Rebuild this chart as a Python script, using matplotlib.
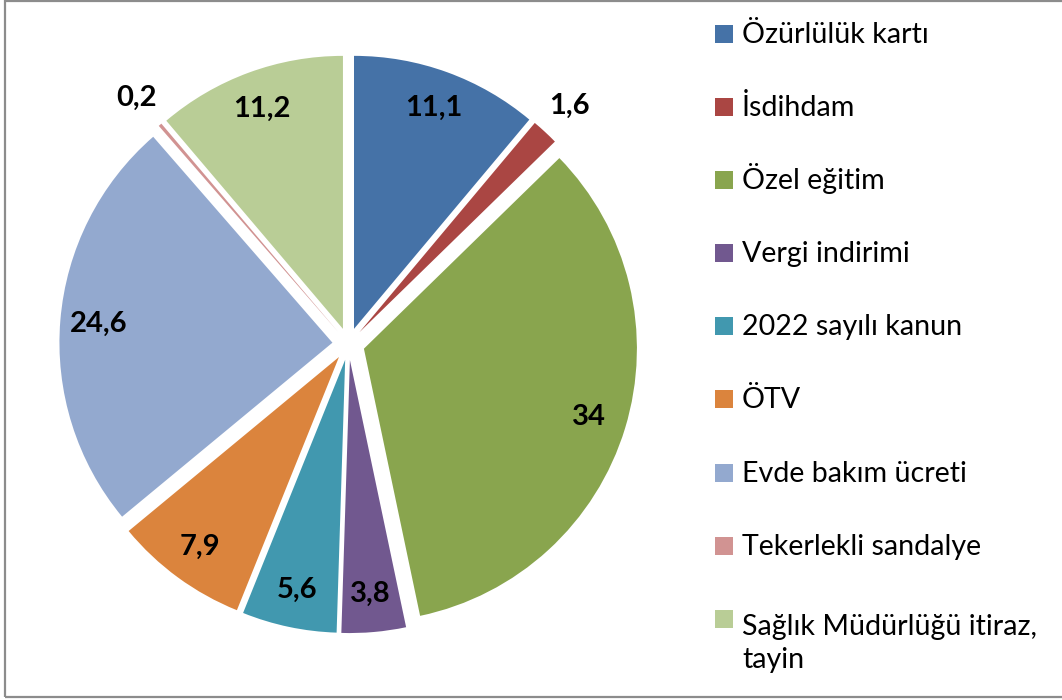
import matplotlib
matplotlib.use("Agg")
import matplotlib.pyplot as plt
from matplotlib.patches import Rectangle
import numpy as np

categories = ["Özürlülük kartı", "İsdihdam", "Özel eğitim", "Vergi indirimi",
              "2022 sayılı kanun", "ÖTV", "Evde bakım ücreti",
              "Tekerlekli sandalye", "Sağlık Müdürlüğü itiraz,\ntayin"]
values = [11.1, 1.6, 34, 3.8, 5.6, 7.9, 24.6, 0.2, 11.2]
colors = ["#4572A7", "#AA4643", "#89A54E", "#71588F", "#4198AF",
          "#DB843D", "#93A9CF", "#D19392", "#B9CD96"]

W, H = 1062, 700
fig = plt.figure(figsize=(W / 100, H / 100), dpi=100)
FONT = "Lato"

def fx(px):
    return px / W

def fy(py):
    return 1 - py / H

# pie axes: centre (348.5, 344) px, radius 273 px
cx, cy, R, L = 348.5, 344, 273, 1.25
half = L * R
ax = fig.add_axes([fx(cx - half), fy(cy + half), 2 * half / W, 2 * half / H])
wedges, _ = ax.pie(values, colors=colors, startangle=90, counterclock=False,
                   explode=[0.059] * len(values), radius=1,
                   wedgeprops=dict(linewidth=0))
ax.set_xlim(-L, L)
ax.set_ylim(-L, L)
ax.set_aspect("equal")
ax.axis("off")

for w, v in zip(wedges, values):
    th = np.deg2rad((w.theta1 + w.theta2) / 2)
    d = 1.13 if v < 3 else 0.86
    x0, y0 = w.center
    txt = f"{v:g}".replace(".", ",")
    ax.text(x0 + d * np.cos(th), y0 + d * np.sin(th), txt, ha="center", va="center",
            fontsize=21, fontweight="bold", family=FONT, color="black", clip_on=False)

# legend
LINE_GAP = 40
for i, (c, lab) in enumerate(zip(colors, categories)):
    base = 43 + 73.1 * i
    fig.patches.append(Rectangle((fx(715), fy(base)), 18 / W, 18 / H,
                                 transform=fig.transFigure, facecolor=c,
                                 edgecolor="none"))
    n = lab.count("\n")
    fig.text(fx(742), fy(base + LINE_GAP * n), lab, ha="left", va="baseline",
             fontsize=20.6, family=FONT, color="black", linespacing=1.3)

# outer border
fig.patches.append(Rectangle((fx(5), fy(697)), (1070 - 5) / W, (697 - 0.5) / H,
                             transform=fig.transFigure, facecolor="none",
                             edgecolor="#8c8c8c", linewidth=1.6))

fig.savefig("out.png", dpi=100)
